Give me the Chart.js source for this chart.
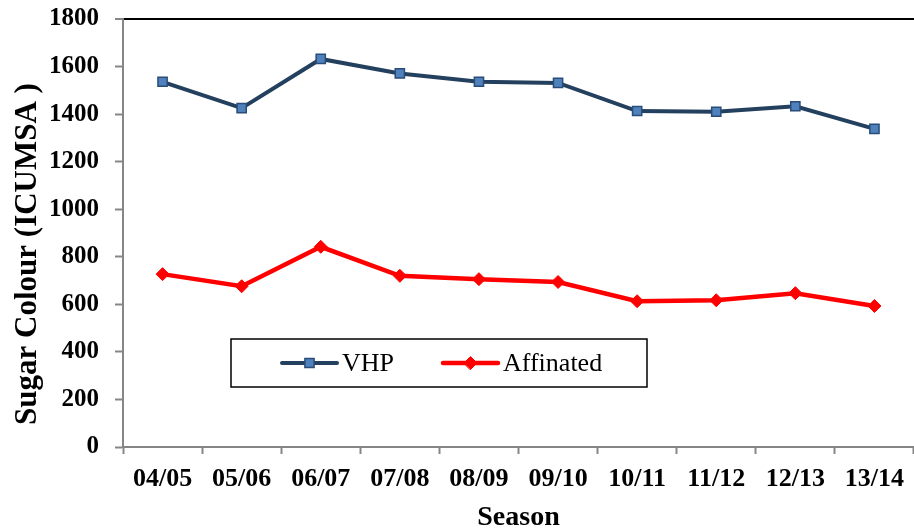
<!DOCTYPE html>
<html>
<head>
<meta charset="utf-8">
<script src="https://cdn.jsdelivr.net/npm/chart.js@4/dist/chart.umd.min.js"></script>
<style>
  html, body { margin: 0; padding: 0; background: #fff; overflow: hidden; }
  #wrap { position: relative; width: 922px; height: 529px; }
</style>
</head>
<body>
<div id="wrap"><canvas id="chart"></canvas></div>
<script>
// Seasons on the x axis
const seasons = ['04/05', '05/06', '06/07', '07/08', '08/09', '09/10', '10/11', '11/12', '12/13', '13/14'];
// Sugar colour (ICUMSA) per season
const vhp = [1536, 1425, 1632, 1571, 1536, 1531, 1413, 1410, 1433, 1338];
const affinated = [727, 676, 842, 720, 706, 694, 613, 617, 647, 593];
// Value axis range
const yMin = 0;
const yMax = 1800;
const yStep = 200;

const seriesNames = ['VHP', 'Affinated'];
const AXIS_GREY = '#868686';
const SERIF = "'Liberation Serif', 'Times New Roman', serif";

// Axis titles and the boxed legend inside the plot
const decorations = {
  id: 'decorations',
  afterDraw(chart) {
    const ctx = chart.ctx;
    const area = chart.chartArea;
    ctx.save();
    ctx.fillStyle = '#000';
    ctx.font = 'bold 28px ' + SERIF;
    ctx.textAlign = 'center';
    ctx.textBaseline = 'alphabetic';
    ctx.fillText('Season', (area.left + area.right) / 2, 525);

    ctx.save();
    ctx.translate(36, 254);
    ctx.rotate(-Math.PI / 2);
    ctx.font = 'bold 31px ' + SERIF;
    ctx.fillText('Sugar Colour (ICUMSA )', 0, 0);
    ctx.restore();

    // legend box
    const bx = 231, by = 339, bw = 416, bh = 48;
    ctx.fillStyle = '#fff';
    ctx.fillRect(bx, by, bw, bh);
    ctx.strokeStyle = '#000';
    ctx.lineWidth = 1.5;
    ctx.strokeRect(bx, by, bw, bh);

    const items = [
      { ds: chart.data.datasets[0], x0: 282, x1: 337, tx: 342 },
      { ds: chart.data.datasets[1], x0: 443, x1: 498, tx: 503 }
    ];
    const cy = 363;
    items.forEach(it => {
      const ds = it.ds;
      ctx.strokeStyle = ds.borderColor;
      ctx.lineWidth = ds.borderWidth;
      ctx.lineCap = 'round';
      ctx.beginPath();
      ctx.moveTo(it.x0, cy);
      ctx.lineTo(it.x1, cy);
      ctx.stroke();
      ctx.fillStyle = ds.pointBackgroundColor;
      ctx.strokeStyle = ds.pointBorderColor;
      ctx.lineWidth = ds.pointBorderWidth;
      Chart.helpers.drawPoint(ctx, {
        pointStyle: ds.pointStyle,
        radius: ds.pointRadius,
        rotation: 0,
        borderWidth: ds.pointBorderWidth
      }, (it.x0 + it.x1) / 2, cy);
      ctx.fillStyle = '#000';
      ctx.font = '26px ' + SERIF;
      ctx.textAlign = 'left';
      ctx.textBaseline = 'alphabetic';
      ctx.fillText(ds.label, it.tx, 371);
    });
    ctx.restore();
  }
};

new Chart(document.getElementById('chart'), {
  type: 'line',
  data: {
    labels: seasons,
    datasets: [
      {
        label: seriesNames[0],
        data: vhp,
        borderColor: '#24405F',
        borderWidth: 4,
        pointStyle: 'rect',
        pointRadius: 6.5,
        pointBackgroundColor: '#4F81BD',
        pointBorderColor: '#2A4C78',
        pointBorderWidth: 1.5,
        tension: 0
      },
      {
        label: seriesNames[1],
        data: affinated,
        borderColor: '#FF0000',
        borderWidth: 4.5,
        pointStyle: 'rectRot',
        pointRadius: 6.5,
        pointBackgroundColor: '#FF0000',
        pointBorderColor: '#FF0000',
        pointBorderWidth: 1,
        tension: 0
      }
    ]
  },
  options: {
    responsive: true,
    maintainAspectRatio: false,
    animation: false,
    events: [],
    layout: { padding: { top: 19, right: 2, bottom: 0, left: 0 } },
    plugins: {
      legend: { display: false },
      tooltip: { enabled: false }
    },
    scales: {
      x: {
        type: 'category',
        offset: true,
        afterFit(scale) { scale.height = 82; },
        grid: {
          offset: true,
          drawOnChartArea: false,
          drawTicks: true,
          tickLength: 7,
          tickColor: AXIS_GREY,
          tickWidth: 2
        },
        border: { display: true, color: AXIS_GREY, width: 2 },
        ticks: {
          color: '#000',
          padding: 10,
          maxRotation: 0,
          autoSkip: false,
          font: { family: SERIF, size: 26, weight: 'bold' }
        }
      },
      y: {
        min: yMin,
        max: yMax,
        afterFit(scale) {
          scale.width = 123;
          scale.paddingTop = 0;
          scale.paddingBottom = 0;
        },
        grid: {
          color: ctx => (ctx.tick && ctx.tick.value === yMax ? '#000' : 'rgba(0,0,0,0)'),
          lineWidth: ctx => (ctx.tick && ctx.tick.value === yMax ? 2 : 1),
          drawTicks: true,
          tickLength: 8,
          tickColor: AXIS_GREY,
          tickWidth: 2
        },
        border: { display: true, color: AXIS_GREY, width: 2 },
        ticks: {
          stepSize: yStep,
          color: '#000',
          padding: 16,
          callback: v => String(v),
          font: { family: SERIF, size: 25, weight: 'bold' }
        }
      }
    }
  },
  plugins: [decorations]
});
</script>
</body>
</html>
